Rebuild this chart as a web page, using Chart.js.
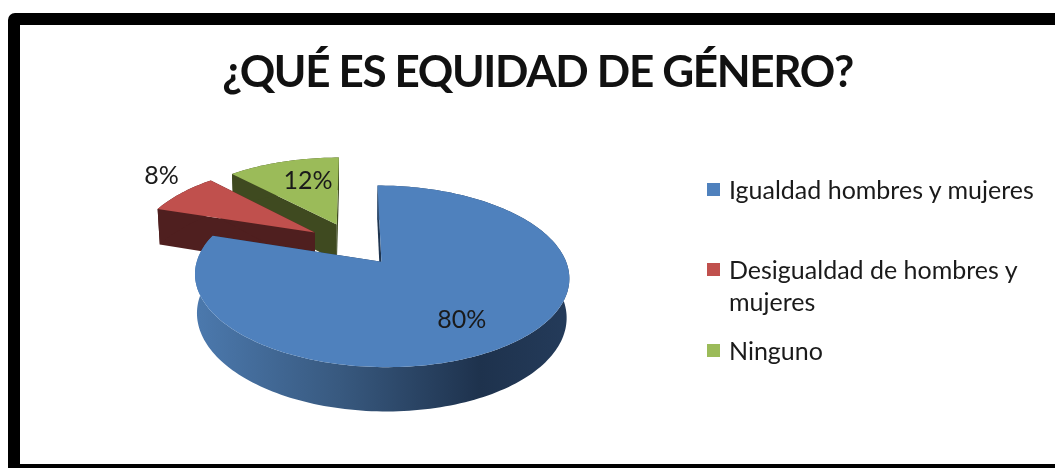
<!DOCTYPE html>
<html>
<head>
<meta charset="utf-8">
<script src="https://cdn.jsdelivr.net/npm/chart.js@4"></script>
<style>
html,body{margin:0;padding:0;background:#fff;overflow:hidden;width:1055px;height:468px}
#frame{position:absolute;left:8px;top:13px;width:1100px;height:463px;border:12px solid #000;border-radius:7px;background:#fff;box-sizing:border-box}
#wrap{position:absolute;left:20px;top:25px;width:1035px;height:439px}
#legend{position:absolute;left:707px;top:173px;width:345px;font:25px Lato,sans-serif;color:#1a1a1a;line-height:32px}
#legend .row{position:absolute;left:0;padding-left:22px;width:322px}
#legend .box{position:absolute;left:0;top:10px;width:13px;height:13px}
</style>
</head>
<body>
<div id="frame"></div>
<div id="wrap"><canvas id="c"></canvas></div>
<div id="legend"></div>
<script>
const categories = ["Igualdad hombres y mujeres", "Desigualdad de hombres y mujeres", "Ninguno"];
const values = [80, 8, 12];
const tickLabels = ["80%", "8%", "12%"];
const topColors = ["#4f81bd", "#c0504d", "#9bbb59"];
const wallColors = ["#1f3550", "#4f1f1f", "#3f4a20"];

// Layout of the tilted, exploded disc (page pixels)
const OX = 20, OY = 25;
const CX = 353.2 - OX, CY = 243.8 - OY, AX = 178.7, BY = 82.8, P = 0.155, DEPTH = 38, Q = 0.012, EXPLODE = 0.26;
const labelNudgeDeg = [3.5, 5.8, 4.5];
const labelRadius = [0.705, 1.283, 0.648];
const legendTops = [0, 80, 161];

function project(u, v, z) {
  const w = 1 - P * v + Q * z;
  return [CX + AX * u / w, CY + (BY * v + DEPTH * z) / w];
}
function polar(mid, a, r) {
  return [EXPLODE * Math.cos(mid) + r * Math.cos(a), EXPLODE * Math.sin(mid) + r * Math.sin(a)];
}
function arcPts(start, end, mid, z) {
  const n = Math.max(8, Math.ceil((end - start) * 40)), pts = [];
  for (let i = 0; i <= n; i++) {
    const a = start + (end - start) * i / n, p = polar(mid, a, 1);
    pts.push(project(p[0], p[1], z));
  }
  return pts;
}
function poly(ctx, pts, fill) {
  ctx.beginPath();
  pts.forEach((p, i) => i ? ctx.lineTo(p[0], p[1]) : ctx.moveTo(p[0], p[1]));
  ctx.closePath();
  ctx.fillStyle = fill;
  ctx.fill();
}

const disc3d = {
  id: "disc3d",
  beforeDraw(chart) {
    chart.ctx.letterSpacing = "-1.35px";
  },
  beforeDatasetsDraw(chart) {
    const ctx = chart.ctx, arcs = chart.getDatasetMeta(0).data;
    ctx.save();
    for (let i = arcs.length - 1; i >= 0; i--) {
      const s = arcs[i].startAngle, e = arcs[i].endAngle, mid = (s + e) / 2;
      const c = polar(mid, 0, 0);
      const apexTop = project(c[0], c[1], 0), apexBot = project(c[0], c[1], 1);
      const top = arcPts(s, e, mid, 0), bot = arcPts(s, e, mid, 1);
      let rim = wallColors[i];
      if (i === 0) {
        rim = ctx.createLinearGradient(200 - OX, 0, 569 - OX, 0);
        rim.addColorStop(0, "#4b78ac");
        rim.addColorStop(0.38, "#38597f");
        rim.addColorStop(0.76, "#1e324d");
        rim.addColorStop(1, "#243b5a");
      }
      poly(ctx, [apexTop, top[0], bot[0], apexBot], wallColors[i]);
      poly(ctx, [apexTop, top[top.length - 1], bot[bot.length - 1], apexBot], wallColors[i]);
      poly(ctx, top.concat(bot.slice().reverse()), rim);
      poly(ctx, [apexTop].concat(top), topColors[i]);
    }
    ctx.restore();
    return false;
  },
  afterDraw(chart) {
    const ctx = chart.ctx, arcs = chart.getDatasetMeta(0).data;
    ctx.save();
    ctx.letterSpacing = "0px";
    ctx.font = "25px Lato, sans-serif";
    ctx.fillStyle = "#1a1a1a";
    ctx.textAlign = "center";
    ctx.textBaseline = "middle";
    arcs.forEach((arc, i) => {
      const mid = (arc.startAngle + arc.endAngle) / 2;
      const a = mid + labelNudgeDeg[i] * Math.PI / 180;
      const p = polar(mid, a, labelRadius[i]);
      const xy = project(p[0], p[1], 0);
      ctx.fillText(tickLabels[i], xy[0], xy[1]);
    });
    ctx.restore();
  }
};

const chart = new Chart(document.getElementById("c"), {
  type: "pie",
  data: {
    labels: categories,
    datasets: [{ data: values, backgroundColor: topColors, borderWidth: 0 }]
  },
  options: {
    responsive: true,
    maintainAspectRatio: false,
    animation: false,
    layout: { padding: 0 },
    plugins: {
      tooltip: { enabled: false },
      legend: { display: false },
      title: {
        display: true,
        text: "¿QUÉ ES EQUIDAD DE GÉNERO?",
        color: "#111111",
        font: { family: "Lato, sans-serif", size: 44, weight: "bold" },
        padding: { top: 21, bottom: 20 }
      }
    }
  },
  plugins: [disc3d]
});

const legendEl = document.getElementById("legend");
categories.forEach((name, i) => {
  const row = document.createElement("div");
  row.className = "row";
  row.style.top = legendTops[i] + "px";
  const box = document.createElement("span");
  box.className = "box";
  box.style.background = topColors[i];
  row.appendChild(box);
  row.appendChild(document.createTextNode(name));
  legendEl.appendChild(row);
});
</script>
</body>
</html>
